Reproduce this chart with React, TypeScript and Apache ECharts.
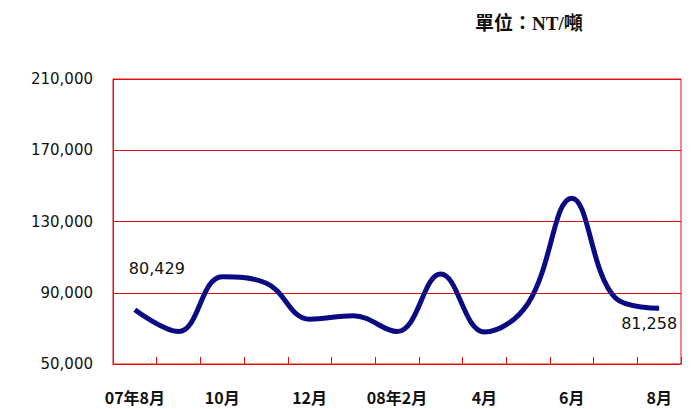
import React, { useEffect, useRef } from "react";
import * as echarts from "echarts";

const categories = ["07年8月", "9月", "10月", "11月", "12月", "08年1月", "08年2月", "3月", "4月", "5月", "6月", "7月", "8月"];
const shownLabels = ["07年8月", "10月", "12月", "08年2月", "4月", "6月", "8月"];
const values = [80429, 68200, 99000, 95500, 75100, 77100, 68200, 100500, 68000, 84100, 143100, 87000, 81258];
const yTicks = { min: 50000, max: 210000, interval: 40000 };
const unitText = "單位：NT/噸";

export default function App() {
  const ref = useRef<HTMLDivElement>(null);
  useEffect(() => {
    if (!ref.current) return;
    const chart = echarts.init(ref.current, null, { renderer: "svg" });
    const red = "#e01010";
    const last = values.length - 1;
    chart.setOption({
      animation: false,
      backgroundColor: "#ffffff",
      title: {
        text: unitText,
        left: 470,
        top: 9,
        textStyle: {
          fontFamily: "'Liberation Serif', 'Noto Sans CJK TC', serif",
          fontSize: 19,
          fontWeight: "bold",
          color: "#111",
        },
      },
      grid: {
        left: 113,
        right: 12,
        top: 79,
        bottom: 45,
        show: true,
        borderColor: red,
        borderWidth: 1,
      },
      xAxis: {
        type: "category",
        data: categories,
        boundaryGap: true,
        axisLine: { lineStyle: { color: red, width: 1 } },
        axisTick: { show: true, inside: true, interval: 0, length: 7, lineStyle: { color: red } },
        axisLabel: {
          interval: 1,
          margin: 25,
          fontFamily: "'Noto Sans CJK TC', sans-serif",
          fontSize: 16,
          fontWeight: "bold",
          color: "#111",
          formatter: (v: string, i: number) => shownLabels[i / 2] ?? v,
        },
        splitLine: { show: false },
      },
      yAxis: {
        type: "value",
        min: yTicks.min,
        max: yTicks.max,
        interval: yTicks.interval,
        axisLine: { show: true, lineStyle: { color: red } },
        axisTick: { show: false },
        axisLabel: {
          margin: 20,
          fontFamily: "'DejaVu Sans', sans-serif",
          fontSize: 15,
          color: "#111",
          formatter: (v: number) => v.toLocaleString("en-US"),
        },
        splitLine: { show: true, lineStyle: { color: [red], width: 1 } },
      },
      series: [
        {
          type: "line",
          data: values.map((v, i) => {
            if (i === 0) {
              return {
                value: v,
                label: { show: true, position: "top", offset: [22, -28] },
              };
            }
            if (i === last) {
              return {
                value: v,
                label: { show: true, position: "bottom", offset: [-10, 2] },
              };
            }
            return v;
          }),
          smooth: 0.4,
          symbol: "circle",
          symbolSize: 0,
          showSymbol: true,
          itemStyle: { color: "#0a0a82" },
          lineStyle: { color: "#0a0a82", width: 5 },
          label: {
            show: false,
            fontFamily: "'DejaVu Sans', sans-serif",
            fontSize: 16,
            color: "#111",
            formatter: (p: any) => Number(p.value).toLocaleString("en-US"),
          },
        },
      ],
    });
    return () => chart.dispose();
  }, []);
  return (
    <div
      ref={ref}
      style={{ position: "absolute", left: 0, top: 0, width: 693, height: 409, overflow: "hidden" }}
    />
  );
}
